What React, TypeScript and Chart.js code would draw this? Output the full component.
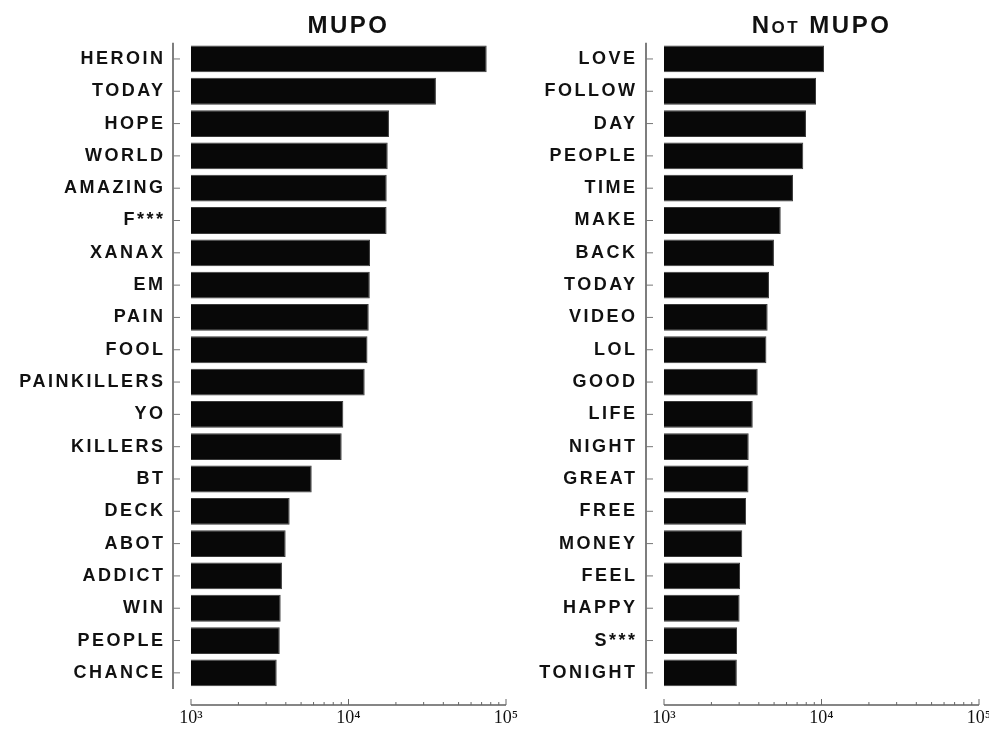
import React, { useEffect, useRef } from 'react';
import { Chart, registerables } from 'chart.js';

Chart.register(...registerables);

const mupoWords = ['HEROIN', 'TODAY', 'HOPE', 'WORLD', 'AMAZING', 'F***', 'XANAX', 'EM', 'PAIN', 'FOOL', 'PAINKILLERS', 'YO', 'KILLERS', 'BT', 'DECK', 'ABOT', 'ADDICT', 'WIN', 'PEOPLE', 'CHANCE'];
const mupoCounts = [75400, 35900, 18070, 17740, 17480, 17450, 13690, 13650, 13440, 13200, 12670, 9270, 9050, 5840, 4230, 3990, 3780, 3710, 3660, 3500];

const notWords = ['LOVE', 'FOLLOW', 'DAY', 'PEOPLE', 'TIME', 'MAKE', 'BACK', 'TODAY', 'VIDEO', 'LOL', 'GOOD', 'LIFE', 'NIGHT', 'GREAT', 'FREE', 'MONEY', 'FEEL', 'HAPPY', 'S***', 'TONIGHT'];
const notCounts = [10370, 9230, 7970, 7660, 6590, 5510, 4990, 4640, 4550, 4470, 3935, 3660, 3450, 3440, 3320, 3140, 3040, 3020, 2910, 2900];

const axisMin = 1000;
const axisMax = 100000;
const majorTicks = [1000, 10000, 100000];
const minorTicks = [2000, 3000, 4000, 5000, 6000, 7000, 8000, 9000, 20000, 30000, 40000, 50000, 60000, 70000, 80000, 90000];
const tickLabels = ['10³', '10⁴', '10⁵'];

const LETTER_SPACING = '2.5px';

const spacingPlugin = {
  id: 'spacing',
  beforeLayout(chart: any) {
    chart.ctx.letterSpacing = LETTER_SPACING;
  },
  beforeDraw(chart: any) {
    chart.ctx.letterSpacing = LETTER_SPACING;
  },
  afterDatasetsDraw(chart: any) {
    chart.ctx.letterSpacing = '0px';
  },
};

const axesPlugin = {
  id: 'offsetAxes',
  afterDraw(chart: any) {
    const { ctx, chartArea, scales } = chart;
    const x = scales.x;
    const y = scales.y;
    ctx.save();
    ctx.strokeStyle = '#5e5e5e';
    ctx.lineWidth = 1.6;
    const ax = chartArea.left - 18;
    ctx.beginPath();
    ctx.moveTo(ax, chartArea.top);
    ctx.lineTo(ax, chartArea.bottom);
    ctx.stroke();
    ctx.lineWidth = 1;
    ctx.strokeStyle = '#777';
    y.ticks.forEach((_t: any, i: number) => {
      const py = y.getPixelForTick(i);
      ctx.beginPath();
      ctx.moveTo(ax, py);
      ctx.lineTo(ax + 7, py);
      ctx.stroke();
    });
    const ay = chartArea.bottom + 16;
    ctx.strokeStyle = '#5e5e5e';
    ctx.lineWidth = 1.6;
    ctx.beginPath();
    ctx.moveTo(x.getPixelForValue(axisMin), ay);
    ctx.lineTo(x.getPixelForValue(axisMax), ay);
    ctx.stroke();
    ctx.lineWidth = 1;
    ctx.strokeStyle = '#666';
    majorTicks.forEach((v) => {
      const px = x.getPixelForValue(v);
      ctx.beginPath();
      ctx.moveTo(px, ay);
      ctx.lineTo(px, ay - 6);
      ctx.stroke();
    });
    minorTicks.forEach((v) => {
      const px = x.getPixelForValue(v);
      ctx.beginPath();
      ctx.moveTo(px, ay);
      ctx.lineTo(px, ay - 3);
      ctx.stroke();
    });
    ctx.restore();
  },
};

function makeConfig(words: string[], counts: number[], title: string, titleWeight: string, yWidth: number, labelPad: number, rightPad: number): any {
  return {
    type: 'bar',
    data: {
      labels: words,
      datasets: [
        {
          data: counts,
          base: axisMin,
          backgroundColor: '#080808',
          borderColor: '#3a3a3a',
          borderWidth: 1,
          barPercentage: 0.83,
          categoryPercentage: 1,
        },
      ],
    },
    options: {
      indexAxis: 'y',
      animation: false,
      responsive: false,
      layout: { padding: { left: 0, right: rightPad, top: 0, bottom: 0 } },
      plugins: {
        legend: { display: false },
        tooltip: { enabled: false },
        title: {
          display: true,
          text: title,
          fullSize: false,
          color: '#111',
          font: { family: 'Liberation Sans', size: 24, weight: titleWeight, lineHeight: 1.2 },
          padding: { top: 12, bottom: 2 },
        },
      },
      scales: {
        x: {
          type: 'logarithmic',
          min: axisMin,
          max: axisMax,
          grid: { display: false, drawTicks: false },
          border: { display: false },
          afterBuildTicks: (scale: any) => {
            scale.ticks = majorTicks.map((v) => ({ value: v }));
          },
          afterFit: (scale: any) => {
            scale.height = 43;
            scale.paddingLeft = 0;
            scale.paddingRight = 0;
          },
          ticks: {
            padding: 18,
            z: 1,
            color: '#111',
            maxRotation: 0,
            autoSkip: false,
            font: { family: 'Liberation Serif', size: 18 },
            callback: (_v: any, i: number) => tickLabels[i],
          },
        },
        y: {
          type: 'category',
          grid: { display: false, drawTicks: false },
          border: { display: false },
          afterFit: (scale: any) => {
            scale.width = yWidth;
            scale.paddingTop = 0;
            scale.paddingBottom = 0;
          },
          ticks: {
            padding: labelPad,
            color: '#111',
            autoSkip: false,
            font: { family: 'Liberation Sans', size: 18, weight: 'bold' },
          },
        },
      },
    },
    plugins: [spacingPlugin, axesPlugin],
  };
}

function BarPanel(props: { words: string[]; counts: number[]; title: string; titleWeight: string; left: number; width: number; yWidth: number; labelPad: number; rightPad: number }) {
  const ref = useRef<HTMLCanvasElement | null>(null);
  useEffect(() => {
    if (!ref.current) return;
    const chart = new Chart(ref.current, makeConfig(props.words, props.counts, props.title, props.titleWeight, props.yWidth, props.labelPad, props.rightPad));
    return () => chart.destroy();
  }, []);
  return (
    <canvas
      ref={ref}
      width={props.width}
      height={732}
      style={{ position: 'absolute', left: props.left, top: 0, width: props.width, height: 732 }}
    />
  );
}

export default function App() {
  return (
    <div style={{ position: 'fixed', left: 0, top: 0, width: 989, height: 732, background: '#fff', overflow: 'hidden' }}>
      <BarPanel words={mupoWords} counts={mupoCounts} title="MUPO" titleWeight="bold" left={0} width={520} yWidth={191} labelPad={25.5} rightPad={14} />
      <BarPanel words={notWords} counts={notCounts} title="Not MUPO" titleWeight="small-caps bold" left={520} width={469} yWidth={144} labelPad={26.5} rightPad={10} />
    </div>
  );
}
